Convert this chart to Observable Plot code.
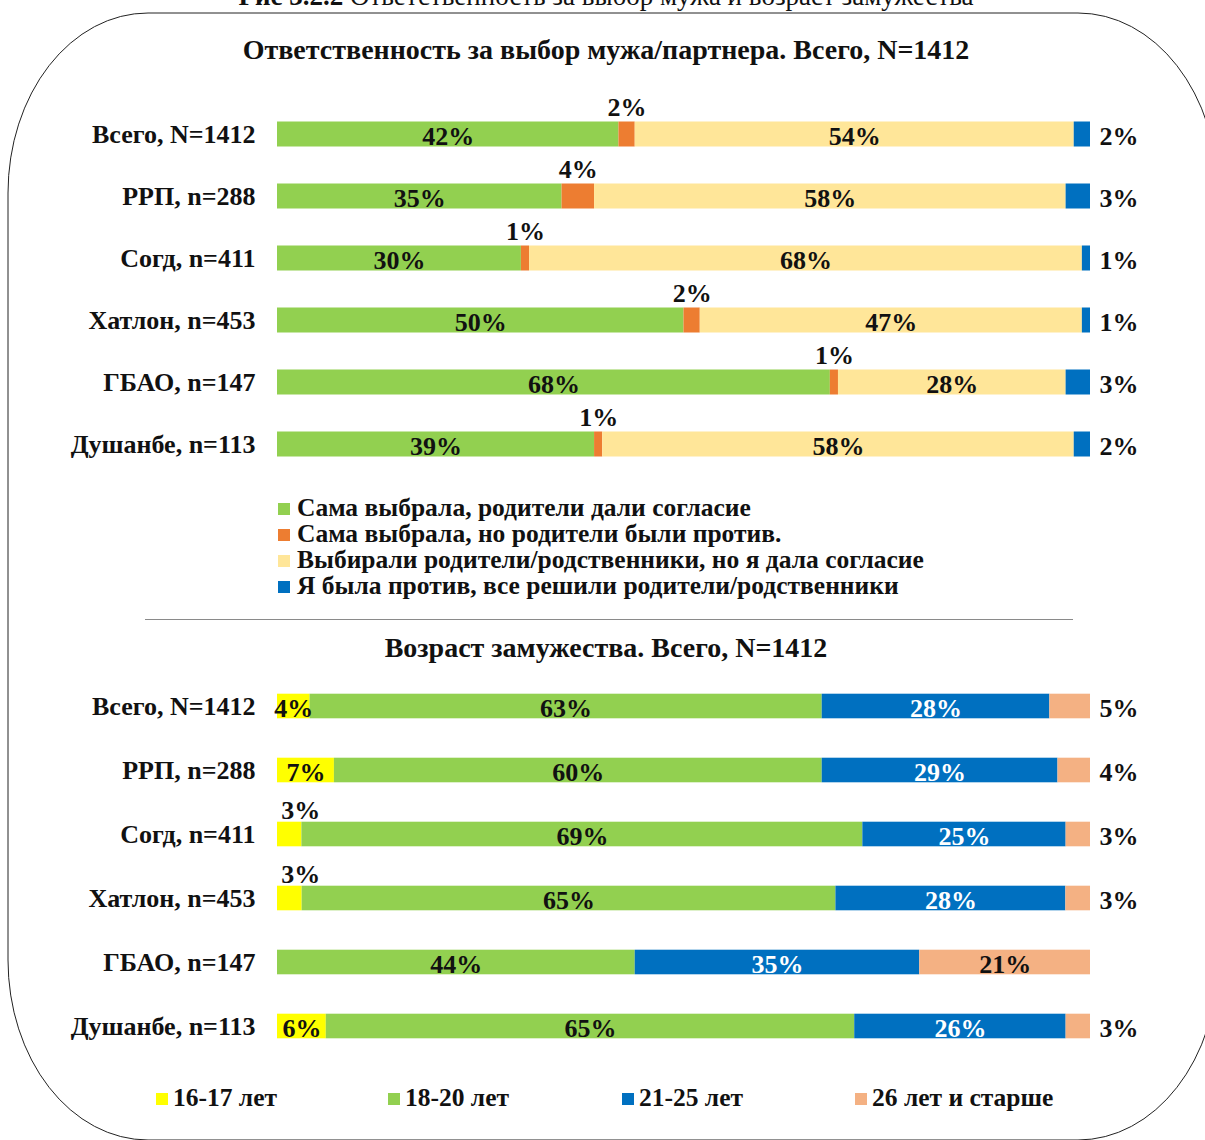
<!DOCTYPE html>
<html><head><meta charset="utf-8">
<script src="https://cdn.jsdelivr.net/npm/d3@7"></script>
<script src="https://cdn.jsdelivr.net/npm/@observablehq/plot@0.6"></script>
<style>
body{margin:0;background:#fff;width:1205px;height:1140px;overflow:hidden;position:relative;font-family:"Liberation Serif",serif;font-weight:bold;color:#111;}
.abs{position:absolute}
.title{position:absolute;left:0;width:1212px;text-align:center;font-size:28px;line-height:30px;}
.leg1{position:absolute;left:278px;top:495px;font-size:25.5px;line-height:26px;}
.leg1 div{white-space:nowrap}
.sw{display:inline-block;width:12px;height:12px;margin-right:7px;vertical-align:1px}
.leg2item{position:absolute;top:1085px;font-size:25.5px;line-height:26px;white-space:nowrap}
</style></head><body>
<div class="abs" style="left:0;top:-17px;width:1212px;text-align:center;font-size:27px;line-height:26px;font-weight:normal"><b>Рис 3.2.2</b> Ответственность за выбор мужа и возраст замужества</div>
<svg class="abs" style="left:0;top:0" width="1205" height="1140">
<rect x="8" y="13" width="1210" height="1127" rx="140" ry="180" fill="none" stroke="#222" stroke-width="1"/>
<line x1="145" x2="1073" y1="619.5" y2="619.5" stroke="#8a8a8a" stroke-width="1.2"/>
</svg>
<div class="title" style="top:35px" id="t1"></div>
<div id="p1" class="abs" style="left:0;top:85px"></div>
<div id="leg1" class="leg1"></div>
<div class="title" style="top:633px" id="t2"></div>
<div id="p2" class="abs" style="left:0;top:660px"></div>
<div id="leg2"></div>
<script>
// ---- data ----
const title1 = "Ответственность за выбор мужа/партнера. Всего, N=1412";
const title2 = "Возраст замужества. Всего, N=1412";
const regions = ["Всего, N=1412", "РРП, n=288", "Согд, n=411", "Хатлон, n=453", "ГБАО, n=147", "Душанбе, n=113"];

const choiceCats = [
  "Сама выбрала, родители дали согласие",
  "Сама выбрала, но родители были против.",
  "Выбирали родители/родственники, но я дала согласие",
  "Я была против, все решили родители/родственники"
];
const choiceSelfAgreed   = [42, 35, 30, 50, 68, 39];
const choiceSelfAgainst  = [2, 4, 1, 2, 1, 1];
const choiceParentsAgree = [54, 58, 68, 47, 28, 58];
const choiceForced       = [2, 3, 1, 1, 3, 2];
const choiceColors = ["#92D050", "#ED7D31", "#FFE699", "#0070C0"];

const ageCats = ["16-17 лет", "18-20 лет", "21-25 лет", "26 лет и старше"];
const age1617 = [4, 7, 3, 3, 0, 6];
const age1820 = [63, 60, 69, 65, 44, 65];
const age2125 = [28, 29, 25, 28, 35, 26];
const age26   = [5, 4, 3, 3, 21, 3];
const ageColors = ["#FFFF00", "#92D050", "#0070C0", "#F4B183"];

// ---- build tables ----
function tidy(cats, series) {
  const out = [];
  regions.forEach((r, i) => cats.forEach((c, k) => out.push({region: r, cat: c, k, value: series[k][i]})));
  return out;
}
const choiceData = tidy(choiceCats, [choiceSelfAgreed, choiceSelfAgainst, choiceParentsAgree, choiceForced]);
const ageData = tidy(ageCats, [age1617, age1820, age2125, age26]);

const FONT = "'Liberation Serif', serif";
const pct = v => v + "%";

// placement rules
const choicePos = d => d.k === 1 ? "above" : d.k === 3 ? "right" : "in";
const agePos = d => {
  if (d.value === 0) return "none";
  if (d.k === 0) return d.value >= 4 ? "in" : "above";
  if (d.k === 3) return d.value >= 10 ? "in" : "right";
  return "in";
};

function chart(data, cats, colors, posFn, whiteK, opts) {
  const base = {x: "value", y: "region", z: "cat", offset: "normalize"};
  const txt = {fontSize: 26, fontWeight: "bold", fontFamily: FONT};
  return Plot.plot({
    width: 1205, height: opts.height,
    marginLeft: 277, marginRight: 115, marginTop: opts.mt, marginBottom: 5,
    x: {domain: [0, 1], axis: null},
    y: {domain: regions, padding: 0, label: null, axis: null},
    color: {domain: cats, range: colors},
    style: {fontFamily: FONT, fontWeight: "bold", fontSize: "26px", color: "#111", background: "transparent", overflow: "visible"},
    marks: [
      Plot.barX(data, Plot.stackX({...base, fill: "cat", insetTop: opts.inset, insetBottom: opts.inset})),
      Plot.axisY({tickSize: 0, tickPadding: 22, fontSize: 26, fontWeight: "bold", fontFamily: FONT, fill: "#111", label: null}),
      Plot.text(data, Plot.stackX({...base, ...txt, fill: "#111", dy: 2,
        text: d => posFn(d) === "in" && d.k !== whiteK ? pct(d.value) : ""})),
      Plot.text(data, Plot.stackX({...base, ...txt, fill: "#fff", dy: 2,
        text: d => posFn(d) === "in" && d.k === whiteK ? pct(d.value) : ""})),
      Plot.text(data, Plot.stackX({...base, ...txt, fill: "#111", dy: opts.aboveDy, dx: opts.aboveDx,
        text: d => posFn(d) === "above" ? pct(d.value) : ""})),
      Plot.text(data, Plot.stackX2({...base, ...txt, fill: "#111", dx: 9, dy: 2, textAnchor: "start",
        text: d => posFn(d) === "right" ? pct(d.value) : ""}))
    ]
  });
}

document.getElementById("t1").textContent = title1;
document.getElementById("t2").textContent = title2;

document.getElementById("p1").append(
  chart(choiceData, choiceCats, choiceColors, choicePos, -1, {height: 395, mt: 18, inset: 18.5, aboveDy: -27, aboveDx: 0})
);
document.getElementById("p2").append(
  chart(ageData, ageCats, ageColors, agePos, 2, {height: 404, mt: 13, inset: 19.7, aboveDy: -24, aboveDx: 11})
);

// legends
const leg1 = document.getElementById("leg1");
choiceCats.forEach((c, i) => {
  const d = document.createElement("div");
  d.innerHTML = `<span class="sw" style="background:${choiceColors[i]}"></span>${c}`;
  leg1.append(d);
});
const leg2 = document.getElementById("leg2");
const leg2x = [156, 388, 622, 855];
ageCats.forEach((c, i) => {
  const d = document.createElement("div");
  d.className = "leg2item";
  d.style.left = leg2x[i] + "px";
  d.innerHTML = `<span class="sw" style="background:${ageColors[i]};margin-right:5px"></span>${c}`;
  leg2.append(d);
});
</script>
</body></html>
